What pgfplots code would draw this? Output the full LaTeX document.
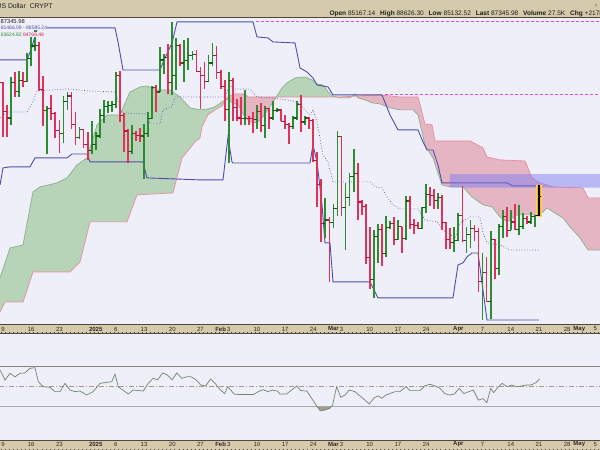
\documentclass[border=0pt]{standalone}
\usepackage{fontspec}
\setmainfont{Liberation Sans}
\usepackage{pgfplots}
\pgfplotsset{compat=1.18}
\usepackage{pgfplotstable}
\definecolor{bg}{RGB}{238,239,248}
\definecolor{tanc}{RGB}{214,202,172}
\definecolor{bord}{RGB}{80,72,60}
\definecolor{upc}{RGB}{45,140,50}
\definecolor{dnc}{RGB}{222,52,92}
\definecolor{upct}{RGB}{10,100,15}
\definecolor{dnct}{RGB}{200,20,60}
\definecolor{chan}{RGB}{78,78,170}
\definecolor{cloudg}{RGB}{184,212,184}
\definecolor{cloudr}{RGB}{229,181,196}
\definecolor{edgeg}{RGB}{140,175,140}
\definecolor{edger}{RGB}{232,140,160}
\definecolor{mag}{RGB}{236,70,236}
\definecolor{bluer}{RGB}{120,120,240}
\definecolor{orangec}{RGB}{245,176,65}
\definecolor{rsiline}{RGB}{112,135,112}
\definecolor{rsif}{RGB}{165,155,135}
\definecolor{ddc}{RGB}{170,150,140}
\definecolor{sagreen}{RGB}{50,140,50}
\definecolor{sbred}{RGB}{215,35,80}

% prices in thousands of US dollars; d = days since 9 Dec 2024 ; u: 1 up, 0 down, 2 last bar
\pgfplotstableread{
d O H L C u
0 101.1 101.2 94.3 97.4 0
1 97.4 98.3 94.3 96.6 0
2 96.6 101.9 95.7 101.1 1
3 101.1 102.5 99.3 100.0 0
4 100.0 102.6 99.3 101.4 1
5 101.4 102.5 100.6 101.3 0
6 101.3 105.0 101.2 104.3 1
7 104.3 107.8 103.3 106.0 1
8 106.0 108.3 105.3 106.1 1
9 106.1 106.5 100.0 100.2 0
10 100.2 102.0 95.6 97.5 0
11 97.5 98.1 92.2 97.8 1
12 97.8 99.5 96.4 97.2 0
13 97.2 97.4 94.2 95.1 0
14 95.1 96.4 92.4 94.7 0
15 94.7 99.4 93.5 98.7 1
16 98.7 99.9 97.6 99.4 1
17 99.4 99.9 95.2 95.8 0
18 95.8 97.3 93.3 94.2 0
19 94.2 95.5 94.0 95.2 1
20 95.2 95.2 93.0 93.4 0
21 93.4 94.9 91.5 92.6 0
22 92.6 96.2 92.2 93.4 1
23 93.4 94.9 92.7 94.4 1
24 94.4 97.8 94.2 96.9 1
25 96.9 98.9 96.0 98.1 1
26 98.1 98.7 97.2 98.2 1
27 98.2 98.8 97.3 98.3 1
28 98.3 102.5 97.9 102.1 1
29 102.1 102.7 96.1 96.9 0
30 96.9 97.2 92.5 95.0 0
31 95.0 95.3 91.2 92.5 0
32 92.5 95.8 92.2 94.7 1
33 94.7 95.0 93.8 94.5 0
34 94.5 95.4 93.7 94.4 0
35 94.4 95.9 89.3 94.7 1
36 94.7 97.3 94.3 96.5 1
37 96.5 100.7 96.5 100.5 1
38 100.5 100.8 97.3 99.9 0
39 99.9 105.9 99.9 104.1 1
40 104.1 104.9 102.3 104.4 1
41 104.4 106.3 99.6 101.1 0
42 101.1 109.35 99.5 102.0 1
43 102.0 107.1 100.1 106.1 1
44 106.1 106.3 103.3 103.7 0
45 103.7 106.8 101.2 104.0 1
46 104.0 107.1 102.8 104.7 1
47 104.7 105.3 104.1 104.8 1
48 104.8 105.5 102.5 102.6 0
49 102.6 103.2 97.8 102.1 0
50 102.1 103.8 100.3 101.3 0
51 101.3 104.8 101.3 103.7 1
52 103.7 106.4 103.3 104.7 1
53 104.7 106.0 101.6 102.4 0
54 102.4 102.8 100.3 100.6 0
55 100.6 101.5 96.2 97.7 0
56 97.7 102.5 91.2 101.4 1
57 101.4 101.7 96.2 97.9 0
58 97.9 99.0 96.2 96.6 0
59 96.6 99.2 95.7 96.5 0
60 96.5 100.1 95.7 96.55 1
61 96.55 96.9 95.7 96.5 0
62 96.5 97.3 94.7 96.4 0
63 96.4 98.3 95.3 97.4 1
64 97.4 98.5 94.9 95.7 0
65 95.7 98.1 94.1 97.8 1
66 97.8 97.9 95.3 96.6 0
67 96.6 98.8 96.3 97.5 1
68 97.5 97.9 97.3 97.6 1
69 97.6 97.7 96.2 96.2 0
70 96.2 97.0 95.2 95.8 0
71 95.8 96.0 93.4 95.6 0
72 95.6 96.9 95.3 96.6 1
73 96.6 98.7 96.4 98.3 1
74 98.3 99.5 94.9 96.1 0
75 96.1 96.9 95.8 96.6 1
76 96.6 96.7 95.3 96.3 0
77 96.3 96.5 91.3 91.5 0
78 91.5 92.5 86.1 88.7 0
79 88.7 89.3 82.3 84.3 0
80 84.3 87.1 82.8 84.7 1
81 84.7 85.0 78.2 84.4 0
82 84.4 86.5 83.8 86.0 1
83 86.0 95.0 85.1 94.3 1
84 94.3 94.4 85.1 86.1 0
85 86.1 88.9 81.5 87.2 1
86 87.2 90.0 86.3 89.6 1
87 89.6 92.8 87.8 89.9 1
88 89.9 91.2 84.7 86.7 0
89 86.7 86.9 85.3 86.2 0
90 86.2 86.5 80.0 80.7 0
91 80.7 83.9 77.5 78.5 0
92 78.5 83.6 76.6 82.9 1
93 82.9 84.3 80.1 83.7 1
94 83.7 84.3 79.9 81.1 0
95 81.1 85.2 80.8 83.9 1
96 83.9 84.6 83.7 84.3 1
97 84.3 85.0 82.0 82.6 0
98 82.6 84.7 82.5 84.0 1
99 84.0 84.0 81.2 82.7 0
100 82.7 87.4 82.6 86.8 1
101 86.8 87.4 83.7 84.2 0
102 84.2 84.8 83.2 84.1 0
103 84.1 84.5 83.7 83.8 0
104 83.8 86.1 83.7 86.1 1
105 86.1 88.7 85.5 87.5 1
106 87.5 88.4 86.3 87.4 0
107 87.4 88.2 85.9 86.9 0
108 86.9 87.7 85.9 87.2 1
109 87.2 87.5 83.6 84.4 0
110 84.4 84.5 81.6 82.6 0
111 82.6 83.8 81.6 82.3 0
112 82.3 83.9 81.3 82.5 1
113 82.5 85.5 82.4 85.2 1
114 85.2 88.5 82.3 82.5 0
115 82.5 83.9 81.2 83.1 1
116 83.1 84.7 81.7 83.8 1
117 83.8 84.2 82.4 83.5 0
118 83.5 83.8 77.2 78.3 0
119 78.3 81.2 74.5 79.2 1
120 79.2 80.8 76.2 76.3 0
121 76.3 83.5 74.6 82.6 1
122 82.6 82.7 78.5 79.6 0
123 79.6 84.3 78.9 84.0 1
124 84.0 85.8 82.8 85.1 1
125 85.1 86.1 82.9 83.6 0
126 83.6 85.8 83.6 84.5 1
127 84.5 86.5 83.6 83.7 0
128 83.7 86.4 83.1 84.0 1
129 84.0 85.5 83.7 84.9 1
130 84.9 85.1 84.3 84.5 0
131 84.5 85.6 84.3 85.1 1
132 85.1 85.3 83.9 85.2 1
133 85.167 88.626 85.133 87.346 2
}\bars

% Senkou span A and B (thousands USD)
\pgfplotstableread{
d p
-0.74 78.620
1.74 81.713
4.96 82.030
7.44 87.834
9.18 88.402
13.40 88.859
15.88 89.433
18.36 90.940
20.84 91.762
23.33 95.755
25.81 96.998
29.03 96.998
31.51 99.910
34.00 100.555
35.73 100.685
38.21 100.165
41.44 100.165
43.92 99.272
46.40 97.878
48.88 97.625
50.87 97.752
52.61 98.005
54.34 98.637
55.83 99.018
56.82 98.511
58.31 98.258
60.05 96.747
61.29 96.124
63.03 96.001
64.27 96.621
65.76 97.625
67.00 98.637
67.99 99.400
69.23 100.425
70.47 101.070
72.46 101.728
74.94 101.860
76.67 101.465
77.92 100.940
79.40 100.810
80.65 99.910
81.64 99.400
83.62 99.145
86.10 99.145
87.34 99.655
88.09 99.145
89.83 98.890
91.56 98.511
93.55 98.384
96.03 97.878
98.51 97.625
101.74 97.625
102.98 96.998
104.71 93.313
106.70 91.762
108.93 88.626
110.92 88.402
114.14 88.402
116.38 87.271
119.11 86.375
121.34 86.152
123.33 85.048
125.06 84.502
127.54 85.268
130.02 85.268
133.25 85.268
134.99 86.040
136.48 85.597
138.96 84.936
140.69 83.962
143.18 82.778
145.16 81.500
150.00 81.500
}\spanA

\pgfplotstableread{
d p
-0.74 75.244
0.50 76.223
4.96 76.223
7.44 79.233
16.63 79.233
19.11 80.259
21.59 84.502
30.77 84.502
33.25 87.496
42.18 87.721
44.42 91.762
47.64 93.674
48.88 94.160
49.38 95.509
50.87 96.998
52.61 97.625
54.34 98.131
55.83 99.272
57.57 99.655
60.05 99.655
60.79 99.272
67.49 99.272
83.62 99.272
88.59 99.400
93.55 99.527
98.51 99.272
102.98 99.272
104.71 95.878
106.45 95.755
107.20 93.795
115.88 93.795
119.11 92.952
120.10 91.880
123.33 91.525
129.53 91.407
131.27 89.433
133.25 88.859
136.48 88.402
143.92 88.288
145.16 87.158
150.00 87.158
}\spanB

\pgfplotstableread{
d p
-0.74 104.115
5.96 104.115
7.20 105.870
7.44 106.425
8.44 108.225
9.68 108.503
27.79 108.503
28.54 106.562
29.78 102.780
38.96 102.780
40.20 104.385
41.94 106.425
43.18 109.346
62.03 109.346
63.03 107.253
65.76 107.114
67.00 106.562
72.46 106.425
73.70 103.047
75.43 102.517
76.92 101.728
77.92 100.810
80.65 100.555
81.89 99.527
94.04 99.527
96.03 96.998
98.01 95.140
102.98 95.140
104.22 93.674
105.21 92.711
106.70 92.711
107.94 90.940
108.93 88.859
125.06 88.859
126.55 88.512
133.00 88.512
}\chup

\pgfplotstableread{
d p
-0.74 88.626
0.00 90.590
1.74 90.708
6.70 90.708
7.94 91.762
15.88 91.762
17.12 92.230
20.84 92.230
21.59 91.290
34.74 91.290
35.73 89.433
48.88 89.202
54.59 89.202
55.83 94.283
56.82 91.290
57.07 91.172
76.18 91.172
76.92 93.313
77.92 91.290
79.16 86.375
79.90 82.244
81.14 82.244
81.89 78.216
91.07 78.216
93.05 76.620
111.66 76.620
112.90 79.950
114.14 80.157
115.14 80.773
116.38 81.185
117.87 81.185
120.10 74.473
133.00 74.473
}\chlo

\pgfplotstableread{
d p
-0.74 96.621
0.99 97.372
5.96 97.372
7.44 98.637
8.44 100.037
15.88 100.295
21.59 100.037
27.79 99.910
29.53 97.245
35.73 97.120
36.48 95.878
38.96 95.878
39.70 97.625
41.94 98.005
42.68 99.272
55.09 99.272
56.33 100.810
57.07 100.295
61.29 100.295
63.03 99.272
66.75 99.145
71.96 98.763
73.20 98.511
76.18 96.998
76.92 97.625
77.92 96.124
79.40 92.110
80.65 91.290
81.89 88.973
91.07 88.973
92.31 88.402
94.04 88.288
95.29 87.271
96.77 86.375
98.51 85.929
102.98 85.929
104.71 84.718
107.69 84.502
109.18 83.637
112.16 82.778
113.40 84.394
115.88 85.048
118.36 85.048
119.11 83.315
120.10 82.244
123.33 82.030
125.81 81.500
133.00 81.500
}\chmid

\pgfplotstableread{
d v
-0.74 67
0.50 56.8
1.74 63.6
2.98 60
4.22 63.6
5.46 64
6.70 68.7
7.94 69.3
8.77 55
10.00 50
11.66 49.4
12.90 45
14.14 45
15.38 53.4
16.63 46.6
17.87 45
19.11 45.6
20.77 41.6
22.40 45
24.07 53.4
25.73 54.4
26.97 55
27.79 62.9
28.60 50
31.10 42.6
32.30 46.6
34.80 45.6
36.05 53.4
37.25 58.5
38.39 57
39.62 64
40.76 61.9
41.99 57
43.13 64
44.37 58.5
45.51 60
46.74 60
47.88 57
49.12 51.7
50.26 50.7
51.49 57.8
52.63 53.4
53.87 47
55.00 43
55.76 50
57.38 42.5
58.61 42
60.99 42
62.13 42
63.36 45
64.50 47
65.74 45
66.88 46.6
68.11 45.6
68.70 42.6
70.40 42.6
71.60 46.6
72.90 50.7
73.90 46
75.40 45.6
76.60 38.2
77.80 30.5
78.70 25.6
79.90 26.3
81.10 28
81.80 31.4
82.40 43
82.80 50
83.80 39.2
84.90 41.6
85.90 46.6
87.30 45
88.60 40.6
89.80 36.5
90.90 32.4
92.10 38.8
93.10 40.6
94.00 38.2
95.00 41.6
96.20 43.3
97.30 45
98.50 45
100.00 50
101.00 46
103.50 46
104.70 51
106.00 52.4
107.24 50.7
108.47 48.3
109.61 43
110.85 41.5
111.99 42.5
113.22 48.3
114.36 43
115.59 45
116.73 46.6
117.97 36.4
119.11 38
120.06 33.7
121.01 48.3
121.77 44
122.72 49
123.86 53.4
125.09 50
126.23 51.7
127.46 50
128.60 50.7
129.84 51.7
130.98 51.7
132.21 54
133.16 57.8
}\rsi

\pgfplotsset{
  datebase/.style={
    xmin=-0.744, xmax=148.14, scale only axis, width=600pt,
    axis line style={draw=none}, ytick=\empty,
    major tick length=0pt, minor tick length=0pt, yminorticks=false,
    xtick={0,7,14,23,28,35,42,49,54,56,63,70,77,82,84,91,98,105,113,119,126,133,140,143,147},
    xticklabels={9,16,23,\textbf{2025},6,13,20,27,\textbf{Feb},3,10,17,24,\textbf{Mar},3,10,17,24,\textbf{Apr},7,14,21,28,\textbf{May},5},
    xticklabel style={font=\fontsize{6}{6}\selectfont, anchor=center, inner sep=0pt, text={rgb,255:red,45;green,40;blue,35}},
  }
}

\begin{document}
\begin{tikzpicture}[x=1pt,y=1pt]
\useasboundingbox (0,0) rectangle (600,450);
\fill[bg] (0,0) rectangle (600,450);
% header band
\fill[tanc] (0,432.7) rectangle (600,450);
\draw[bord, line width=0.8pt] (0,432.7) -- (600,432.7);
% date band (middle)
\fill[tanc] (0,116.7) rectangle (600,126);
\draw[bord, line width=0.7pt] (0,126) -- (600,126) (0,116.7) -- (600,116.7);
\draw[bord, line width=0.6pt, dash pattern=on 0.7pt off 3.33pt] (1.2,117.8) -- (600,117.8);
% date band (bottom)
\fill[tanc] (0,0) rectangle (600,9.3);
\draw[bord, line width=0.7pt] (0,9.3) -- (600,9.3);
\draw[bord, line width=0.6pt, dash pattern=on 0.7pt off 3.33pt] (1.2,0.8) -- (600,0.8);

% ---------------- main price panel (log scale, thousands USD)
\begin{axis}[datebase,
  at={(0pt,126pt)}, anchor=south west, height=306pt,
  ymode=log, ymin=74.091, ymax=109.907,
  xticklabel style={yshift=-5pt},
]
% cloud (senkou A above B: green ; B above A: red)
\addplot[draw=none, fill=cloudg] coordinates {(-0.74,78.620) (1.74,81.713) (4.96,82.030) (7.44,87.834) (9.18,88.402) (13.40,88.859) (15.88,89.433) (18.36,90.940) (20.84,91.762) (23.33,95.755) (25.81,96.998) (29.03,96.998) (31.51,99.910) (34.00,100.555) (35.73,100.685) (38.21,100.165) (41.44,100.165) (43.92,99.272) (46.40,97.878) (48.88,97.625) (50.87,97.752) (52.61,98.005) (54.34,98.637) (55.33,98.891) (54.34,98.131) (52.61,97.625) (50.87,96.998) (49.38,95.509) (48.88,94.160) (47.64,93.674) (44.42,91.762) (42.18,87.721) (33.25,87.496) (30.77,84.502) (21.59,84.502) (19.11,80.259) (16.63,79.233) (7.44,79.233) (4.96,76.223) (0.50,76.223) (-0.74,75.244) (-0.74,78.620)};
\addplot[draw=none, fill=cloudr] coordinates {(55.33,98.891) (55.83,99.018) (56.82,98.511) (58.31,98.258) (60.05,96.747) (61.29,96.124) (63.03,96.001) (64.27,96.621) (65.76,97.625) (67.00,98.637) (67.82,99.272) (67.49,99.272) (60.79,99.272) (60.05,99.655) (57.57,99.655) (55.83,99.272) (55.33,98.891)};
\addplot[draw=none, fill=cloudg] coordinates {(67.82,99.272) (67.99,99.400) (69.23,100.425) (70.47,101.070) (72.46,101.728) (74.94,101.860) (76.67,101.465) (77.92,100.940) (79.40,100.810) (80.65,99.910) (81.64,99.400) (82.63,99.272) (67.82,99.272)};
\addplot[draw=none, fill=cloudr] coordinates {(82.63,99.272) (83.62,99.145) (86.10,99.145) (86.60,99.349) (83.62,99.272) (82.63,99.272)};
\addplot[draw=none, fill=cloudg] coordinates {(86.60,99.349) (87.34,99.655) (87.75,99.378) (86.60,99.349)};
\addplot[draw=none, fill=cloudr] coordinates {(87.75,99.378) (88.09,99.145) (89.83,98.890) (91.56,98.511) (93.55,98.384) (96.03,97.878) (98.51,97.625) (101.74,97.625) (102.98,96.998) (104.71,93.313) (106.70,91.762) (108.93,88.626) (110.92,88.402) (114.14,88.402) (116.38,87.271) (119.11,86.375) (121.34,86.152) (123.33,85.048) (125.06,84.502) (127.54,85.268) (130.02,85.268) (133.25,85.268) (134.99,86.040) (136.48,85.597) (138.96,84.936) (140.69,83.962) (143.18,82.778) (145.16,81.500) (150.00,81.500) (150.00,87.158) (145.16,87.158) (143.92,88.288) (136.48,88.402) (133.25,88.859) (131.27,89.433) (129.53,91.407) (123.33,91.525) (120.10,91.880) (119.11,92.952) (115.88,93.795) (107.20,93.795) (106.45,95.755) (104.71,95.878) (102.98,99.272) (98.51,99.272) (93.55,99.527) (88.59,99.400) (87.75,99.378)};
\addplot[edgeg, line width=0.7pt] table[x=d,y=p] {\spanA};
\addplot[edger, line width=0.7pt] table[x=d,y=p] {\spanB};
% horizontal magenta levels
\addplot[mag, line width=1pt, dash pattern=on 3pt off 2pt] coordinates {(62.9,109.45) (150,109.45)};
\addplot[mag, line width=1pt, dash pattern=on 3pt off 2pt] coordinates {(94.8,99.6) (150,99.6)};
% price channel
\addplot[chan, line width=0.9pt] table[x=d,y=p] {\chup};
\addplot[chan, line width=0.9pt] table[x=d,y=p] {\chlo};
\addplot[chan, line width=0.7pt, dotted] table[x=d,y=p] {\chmid};
% blue zone and last-bar highlight
\addplot[draw=none, fill=bluer, fill opacity=0.45] coordinates {(110.9,88.32) (150,88.32) (150,89.87) (110.9,89.87) (110.9,88.32)};
\addplot[draw={rgb,255:red,250;green,215;blue,60}, line width=0.6pt, fill=orangec] coordinates {(132.45,85.133) (133.55,85.133) (133.55,88.626) (132.45,88.626) (132.45,85.133)};
% OHLC bars
\pgfplotsforeachungrouped \i in {0,...,133}{%
  \pgfplotstablegetelem{\i}{d}\of\bars\let\bd\pgfplotsretval
  \pgfplotstablegetelem{\i}{O}\of\bars\let\bo\pgfplotsretval
  \pgfplotstablegetelem{\i}{H}\of\bars\let\bh\pgfplotsretval
  \pgfplotstablegetelem{\i}{L}\of\bars\let\bl\pgfplotsretval
  \pgfplotstablegetelem{\i}{C}\of\bars\let\bc\pgfplotsretval
  \pgfplotstablegetelem{\i}{u}\of\bars\let\bu\pgfplotsretval
  \ifcase\bu\relax \def\bcol{dnc}\def\bcolt{dnct}\or\def\bcol{upc}\def\bcolt{upct}\else\def\bcol{black}\def\bcolt{black}\fi
  \edef\temp{%
    \noexpand\addplot[\bcol, line width=1.8pt] coordinates {(\bd,\bl) (\bd,\bh)};
    \noexpand\addplot[\bcolt, only marks, mark=-, mark size=1.25pt, mark options={line width=1.2pt, xshift=-1.25pt}] coordinates {(\bd,\bo)};
    \noexpand\addplot[\bcolt, only marks, mark=-, mark size=1.25pt, mark options={line width=1.2pt, xshift=1.25pt}] coordinates {(\bd,\bc)};
  }\temp
}
\end{axis}

% ---------------- oscillator panel
\begin{axis}[datebase,
  at={(0pt,9.3pt)}, anchor=south west, height=107.4pt,
  ymin=-4.8, ymax=104.2,
  xticklabel style={yshift=-3.5pt},
]
\addplot[draw=none, fill=rsif] coordinates {(77.88,30) (78.7,25.6) (79.9,26.3) (81.1,28) (81.5,30) (77.88,30)};
\addplot[color={rgb,255:red,140;green,132;blue,130}, line width=1pt] coordinates {(-1,70) (150,70)};
\addplot[color={rgb,255:red,170;green,170;blue,170}, line width=1.2pt] coordinates {(-1,30) (150,30)};
\addplot[ddc, line width=0.8pt, dash pattern=on 5pt off 2pt on 1pt off 2pt] coordinates {(-1,50) (150,50)};
\addplot[rsiline, line width=0.7pt] table[x=d,y=v] {\rsi};
\end{axis}

% ---------------- texts
\node[anchor=base west, font=\fontsize{6.8}{7}\selectfont, inner sep=0pt, text={rgb,255:red,30;green,30;blue,30}] at (-3.5,441.7) {US Dollar\hspace{4pt}CRYPT};
\node[anchor=base west, font=\fontsize{6.55}{7}\selectfont, inner sep=0pt, text={rgb,255:red,30;green,30;blue,30}] at (329.3,434.6) {\textbf{Open} 85167.14\hspace{3pt} \textbf{High} 88626.30\hspace{3pt} \textbf{Low} 85132.52\hspace{3pt} \textbf{Last} 87345.98\hspace{3pt} \textbf{Volume} 27.5K\hspace{3pt} \textbf{Chg} +2178.84 (+2.56\%)};
\fill[gray!70] (596,445) circle (1.6);
\node[anchor=base west, font=\fontsize{5.8}{6}\selectfont, inner sep=0.4pt, fill=bg, text={rgb,255:red,30;green,30;blue,30}] at (0,426.9) {87345.98};
\node[anchor=base west, font=\fontsize{5}{6}\selectfont, inner sep=0.4pt, fill=bg, text=chan] at (0.3,420.4) {81466.09 - 88585.24};
\node[anchor=base west, font=\fontsize{5}{6}\selectfont, inner sep=0.4pt, fill=bg] at (0.3,413.8) {\textcolor{sagreen}{83624.82} \textcolor{sbred}{84766.48}};
\end{tikzpicture}
\end{document}
